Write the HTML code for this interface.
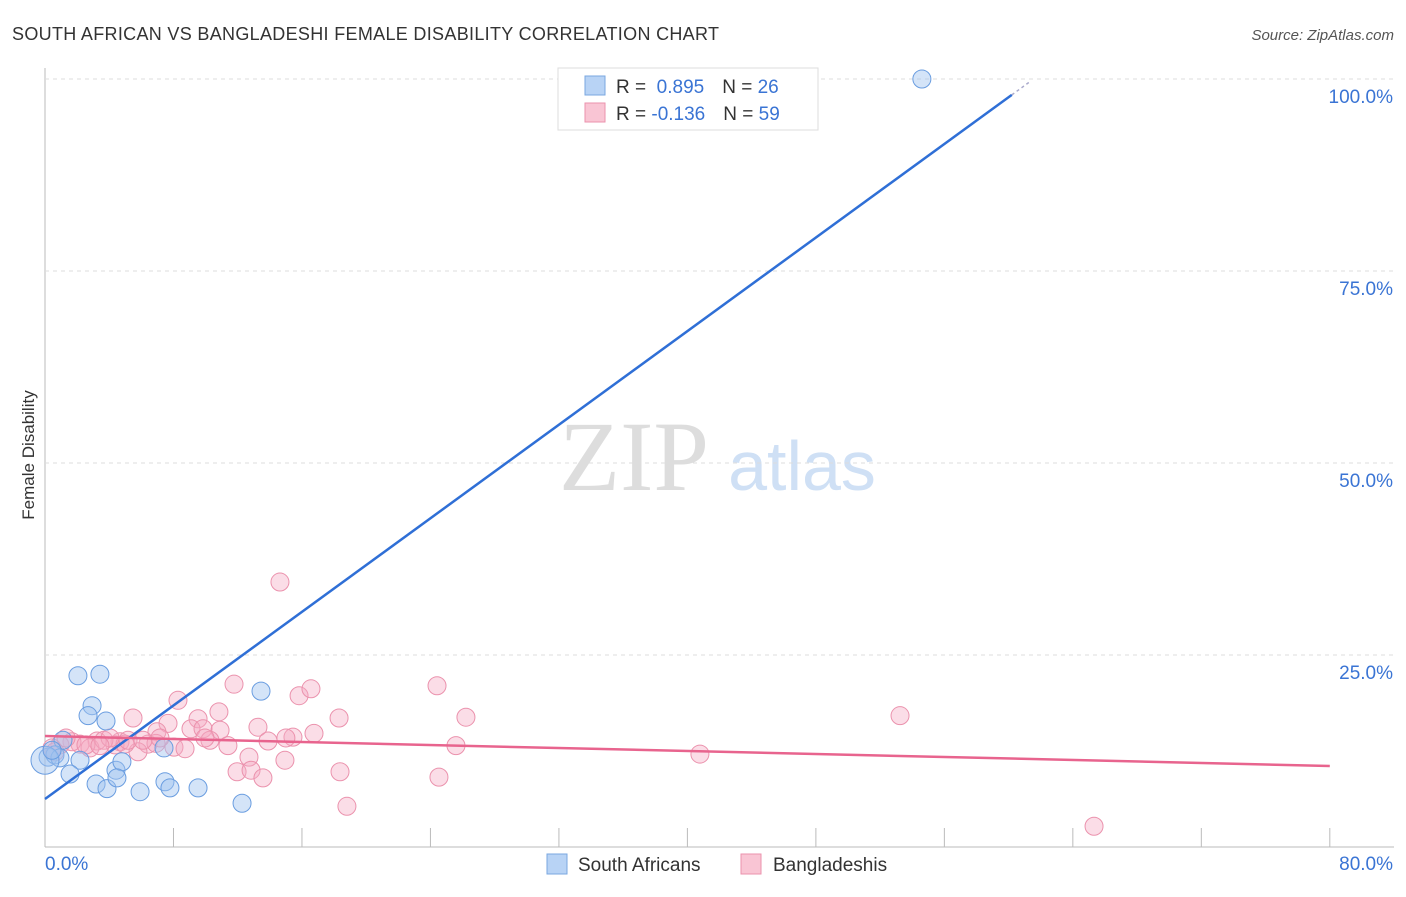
<!DOCTYPE html>
<html><head><meta charset="utf-8"><style>
body{margin:0;background:#fff;font-family:"Liberation Sans",sans-serif;}
</style></head><body>
<svg id="c" width="1406" height="892" style="font-family:'Liberation Sans',sans-serif">
<text x="12" y="40" font-size="18" fill="#333" textLength="707">SOUTH AFRICAN VS BANGLADESHI FEMALE DISABILITY CORRELATION CHART</text>
<text x="1394" y="40" font-size="15" fill="#555" font-style="italic" text-anchor="end">Source: ZipAtlas.com</text>
<text x="34" y="455" font-size="17" fill="#333" text-anchor="middle" transform="rotate(-90 34 455)">Female Disability</text>
<text x="634" y="490" font-size="100" fill="#ddd" style="font-family:'Liberation Serif',serif" text-anchor="middle">ZIP</text>
<text x="802" y="490" font-size="70" fill="#cfe0f5" text-anchor="middle">atlas</text>
<g id="grid"></g><g id="marks"></g>
<g>
<rect x="558" y="68" width="260" height="62" fill="#fff" stroke="#ddd"/>
<rect x="585" y="76" width="20" height="19" fill="#b8d3f5" stroke="#7aa7e0"/>
<rect x="585" y="103" width="20" height="19" fill="#f9c5d4" stroke="#eb92ad"/>
<text x="616" y="93" font-size="19" fill="#333">R = <tspan fill="#3a74d4">&#160;0.895</tspan><tspan dx="18">N = </tspan><tspan fill="#3a74d4">26</tspan></text>
<text x="616" y="120" font-size="19" fill="#333">R = <tspan fill="#3a74d4">-0.136</tspan><tspan dx="18">N = </tspan><tspan fill="#3a74d4">59</tspan></text>
</g>
<g>
<rect x="547" y="854" width="20" height="20" fill="#b8d3f5" stroke="#7aa7e0"/>
<text x="578" y="871" font-size="19" fill="#333">South Africans</text>
<rect x="741" y="854" width="20" height="20" fill="#f9c5d4" stroke="#eb92ad"/>
<text x="773" y="871" font-size="19" fill="#333">Bangladeshis</text>
</g>
</svg>
<script>
const blueX=[54.6,2.05,3.42,2.93,2.68,3.8,1.12,2.18,1.56,3.18,3.86,4.42,4.79,4.48,5.92,7.47,7.78,9.53,12.27,13.45,7.41,0.19,0.62,0.93,0.0,0.44];
const blueY=[100,22.3,22.5,18.4,17.1,16.4,13.9,11.3,9.5,8.2,7.6,10.0,11.1,9.0,7.2,8.5,7.7,7.7,5.7,20.3,12.9,11.7,12.0,11.6,11.3,12.6];
const pinkX=[14.63,11.77,8.28,15.82,16.56,24.41,26.21,18.31,53.24,10.83,9.53,5.48,7.66,9.09,6.97,9.84,13.26,10.9,15.44,15.0,16.75,10.27,9.96,13.89,11.39,8.03,6.41,4.67,4.36,3.24,2.18,1.68,0.93,0.44,5.79,4.98,25.59,12.7,14.94,40.78,11.96,12.83,13.57,18.37,24.53,18.8,65.32,2.8,3.67,1.31,6.91,8.72,7.16,4.05,5.17,6.1,0.62,2.55,3.42];
const pinkY=[34.5,21.2,19.1,19.7,20.6,21.0,16.9,16.8,17.1,17.6,16.7,16.8,16.1,15.4,15.0,15.4,15.6,15.2,14.3,14.2,14.8,13.9,14.2,13.8,13.2,13.0,13.4,13.7,13.3,13.8,13.4,13.7,13.3,12.9,12.4,13.4,13.2,11.7,11.3,12.1,9.8,10.0,9.0,9.8,9.1,5.3,2.7,12.9,13.9,14.2,13.5,12.8,14.2,14.2,13.9,13.9,12.4,13.3,13.2];
const yTicks=[25,50,75,100];
const yTickLabels=["25.0%","50.0%","75.0%","100.0%"];
const xTicks=[0,8,16,24,32,40,48,56,64,72,80];
const blueTrend=[6.25,1.523];
const pinkTrend=[14.45,-0.04875];
const sx=v=>45+v*16.06, sy=v=>847-v*7.68;
const NS="http://www.w3.org/2000/svg";
function mk(t,a,p){const e=document.createElementNS(NS,t);for(const k in a)e.setAttribute(k,a[k]);p.appendChild(e);return e;}
const g=document.getElementById('grid'), m=document.getElementById('marks');
let ax=mk('line',{x1:45,y1:68,x2:45,y2:847,stroke:'#bbb'},g);


let bx=mk('line',{x1:45,y1:847,x2:1394,y2:847,stroke:'#bbb'},g);


yTicks.forEach((v,i)=>{
 let l=mk('line',{x1:45,x2:1394,y1:sy(v),y2:sy(v),stroke:'#ddd','stroke-dasharray':'4 4'},g);
 
 
 let t=mk('text',{x:1393,y:sy(v)+24,'font-size':19,fill:'#3a74d4','text-anchor':'end'},g);
 t.textContent=yTickLabels[i];
 
 
});
xTicks.forEach(v=>{
 let l=mk('line',{x1:sx(v),x2:sx(v),y1:828,y2:847,stroke:'#bbb'},g);
 
 
});
let t0=mk('text',{x:45,y:870,'font-size':19,fill:'#3a74d4'},g);t0.textContent='0.0%';


let t1=mk('text',{x:1393,y:870,'font-size':19,fill:'#3a74d4','text-anchor':'end'},g);t1.textContent='80.0%';


pinkX.forEach((x,i)=>{
 let c=mk('circle',{cx:sx(x),cy:sy(pinkY[i]),r:9,fill:'rgba(246,170,195,0.4)',stroke:'#eb92ad','stroke-width':1},m);
 
 
});
blueX.forEach((x,i)=>{
 let c=mk('circle',{cx:sx(x),cy:sy(blueY[i]),r:i==24?14:9,fill:'rgba(160,196,240,0.45)',stroke:'#6a9de0','stroke-width':1},m);
 
 
});
let xe=60.2;
let bl=mk('line',{x1:sx(0),y1:sy(blueTrend[0]),x2:sx(xe),y2:sy(blueTrend[0]+blueTrend[1]*xe),stroke:'#2f6fd6','stroke-width':2.5},m);


let bd=mk('line',{x1:sx(xe),y1:sy(blueTrend[0]+blueTrend[1]*xe),x2:sx(61.3),y2:sy(blueTrend[0]+blueTrend[1]*61.3),stroke:'#aac',"stroke-dasharray":'3 3','stroke-width':1.5},m);


let pl=mk('line',{x1:sx(0),y1:sy(pinkTrend[0]),x2:sx(80),y2:sy(pinkTrend[0]+pinkTrend[1]*80),stroke:'#e8648e','stroke-width':2.5},m);


</script>
</body></html>
